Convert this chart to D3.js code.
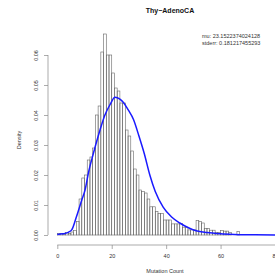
<!DOCTYPE html>
<html>
<head>
<meta charset="utf-8">
<script src="https://cdn.jsdelivr.net/npm/d3@7"></script>
<style>
  body { margin: 0; background: #fff; }
  text { font-family: "Liberation Sans", Arial, sans-serif; }
</style>
</head>
<body>
<div id="graph"></div>
<script>
// histogram: one bin per mutation count, density value per bin
var binStarts = [0,1,2,3,4,5,6,7,8,9,10,11,12,13,14,15,16,17,18,19,20,21,22,23,24,25,26,27,28,29,30,31,32,33,34,35,36,37,38,39,40,41,42,43,44,45,46,47,48,49,50,51,52,53,54,55,56,57,58,59,60,61,62,63,64,65,66,67];
var binDensity = [0.0005,0.0005,0.0003,0.0008,0.0005,0.001,0.0015,0.0045,0.012,0.019,0.020,0.025,0.026,0.029,0.040,0.043,0.061,0.067,0.060,0.060,0.054,0.049,0.048,0.044,0.044,0.035,0.033,0.028,0.022,0.020,0.015,0.0145,0.014,0.012,0.0094,0.0094,0.0078,0.0072,0.0072,0.005,0.005,0.005,0.0037,0.0037,0.0037,0.0038,0.0026,0.0026,0.0017,0.0017,0.0017,0.0048,0.0045,0.004,0.0022,0.0022,0.0016,0.0016,0.0008,0.0008,0.0015,0.0013,0.0013,0.0008,0,0,0.0012,0];

// fitted curve
var fitX = [0,2,4,5.3,7,9,10.2,11.5,13.2,15.7,17.5,19.4,21.2,23,24.3,26,28,30,32,34,36,38.9,42,45,48,51,55,60,65,70,80,85];
var fitY = [0.0002,0.0004,0.0009,0.0017,0.006,0.0117,0.015,0.021,0.027,0.035,0.040,0.0435,0.0459,0.0453,0.0442,0.0418,0.0385,0.033,0.027,0.020,0.0145,0.0093,0.006,0.004,0.0025,0.0014,0.0008,0.0004,0.0002,0.0001,0.00003,0];

var xTicks = [0, 20, 40, 60, 80];
var yTicks = [0, 0.01, 0.02, 0.03, 0.04, 0.05, 0.06];
var title = "Thy\u2212AdenoCA";
var legendLines = ["mu: 23.1522374024128", "stderr: 0.181217455293"];

drawGraph();

function drawGraph(){
  var svg = d3.select('#graph').append('svg').attr('width', 275).attr('height', 275);
  var x = d3.scaleLinear().domain([0, 80]).range([57.3, 275]);
  var y = d3.scaleLinear().domain([0, 0.06]).range([235, 55]);

  // bars
  svg.selectAll('rect.bar').data(binStarts).enter().append('rect')
    .attr('class', 'bar')
    .attr('x', function(d){ return x(d); })
    .attr('width', function(d){ return x(d + 1) - x(d); })
    .attr('y', function(d, i){ return y(binDensity[i]); })
    .attr('height', function(d, i){ return y(0) - y(binDensity[i]); })
    .attr('fill', 'none')
    .attr('stroke', '#666')
    .attr('stroke-width', 0.6);

  // fitted line
  var line = d3.line()
    .x(function(d){ return x(d); })
    .y(function(d, i){ return y(fitY[i]); })
    .curve(d3.curveMonotoneX);
  svg.append('path').datum(fitX)
    .attr('d', line)
    .attr('fill', 'none')
    .attr('stroke', '#1a1aff')
    .attr('stroke-width', 1.5);

  // x axis
  var xAxis = svg.append('g').attr('transform', 'translate(0, 245)')
    .call(d3.axisBottom(x).tickValues(xTicks).tickSize(4).tickPadding(5));
  // y axis
  var yAxis = svg.append('g').attr('transform', 'translate(48, 0)')
    .call(d3.axisLeft(y).tickValues(yTicks).tickSize(4).tickPadding(8).tickFormat(d3.format('.2f')));

  [xAxis, yAxis].forEach(function(g){
    g.select('.domain').attr('stroke', '#888').attr('stroke-width', 0.7);
    g.selectAll('.tick line').attr('stroke', '#888').attr('stroke-width', 0.7);
    g.selectAll('.tick text').attr('fill', '#333').attr('font-size', 5.5)
      .attr('font-family', '"Liberation Sans", Arial, sans-serif');
  });
  // R draws the axis line only from first to last tick
  xAxis.select('.domain').attr('d', 'M' + x(0) + ',0H' + x(80));
  yAxis.select('.domain').attr('d', 'M0,' + y(0) + 'V' + y(0.06));

  // rotate y tick labels like R
  yAxis.selectAll('.tick text')
    .attr('transform', 'rotate(-90)')
    .attr('x', 0).attr('y', -12).attr('dy', '0.32em')
    .attr('text-anchor', 'middle');

  svg.append('text').attr('x', 170).attr('y', 12.5)
    .attr('text-anchor', 'middle').attr('font-size', 7).attr('font-weight', 'bold')
    .attr('fill', '#111').text(title);

  svg.append('text').attr('x', 165).attr('y', 273)
    .attr('text-anchor', 'middle').attr('font-size', 5.5).attr('fill', '#333')
    .text('Mutation Count');

  svg.append('text').attr('transform', 'translate(21, 140) rotate(-90)')
    .attr('text-anchor', 'middle').attr('font-size', 5.5).attr('fill', '#333')
    .text('Density');

  svg.selectAll('text.legend').data(legendLines).enter().append('text')
    .attr('class', 'legend')
    .attr('x', 202)
    .attr('y', function(d, i){ return 38 + i * 7; })
    .attr('font-size', 5.5).attr('fill', '#333')
    .text(function(d){ return d; });
}
</script>
</body>
</html>
